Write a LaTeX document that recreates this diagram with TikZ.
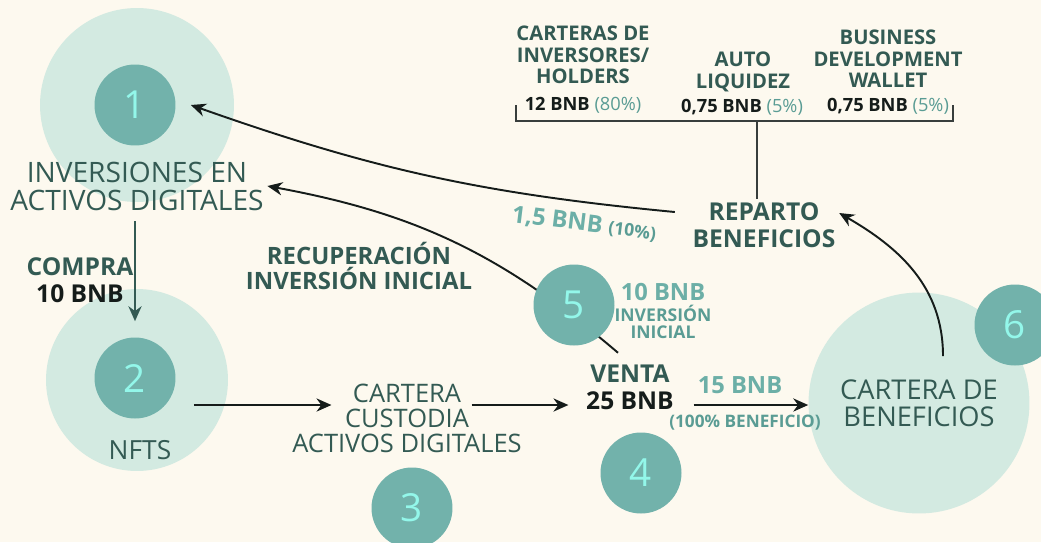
\documentclass[tikz,border=0pt]{standalone}
\usepackage{fontspec}
\setmainfont{Open Sans}
\usepackage{xcolor}
\usepackage{tikz}
\usetikzlibrary{arrows.meta}
\usetikzlibrary{positioning}
\definecolor{crema}{HTML}{FDF9EF}
\definecolor{verdeclaro}{HTML}{D3EAE1}
\definecolor{verdemedio}{HTML}{72B2AB}
\definecolor{cian}{HTML}{93F7EA}
\definecolor{oscuro}{HTML}{335A53}
\definecolor{turquesa}{HTML}{6CAFA7}
\definecolor{turquesaosc}{HTML}{5A9C94}
\definecolor{negro}{HTML}{151C1A}

\begin{document}
\begin{tikzpicture}[x=0.02cm,y=0.02cm,
  fondo/.style={circle,fill=verdeclaro,inner sep=0pt},
  num/.style={circle,fill=verdemedio,text=cian,minimum size=1.62cm,inner sep=0pt,font=\fontsize{22}{22}\selectfont},
  paso/.style={text=oscuro,align=center,inner sep=2pt,font=\fontsize{16}{16}\selectfont},
  rotulo/.style={text=oscuro,align=center,inner sep=2pt,font=\bfseries\fontsize{14}{15.3}\selectfont},
  titulo/.style={text=oscuro,align=center,inner sep=1pt,font=\bfseries\fontsize{11.5}{12.2}\selectfont},
  monto/.style={text=negro,inner sep=1pt,font=\bfseries\fontsize{10.4}{12}\selectfont},
  cifra/.style={text=turquesa,align=center,inner sep=1pt,font=\bfseries\fontsize{13.5}{15}\selectfont},
  nota/.style={text=turquesaosc,align=center,inner sep=0pt,font=\bfseries\fontsize{10}{9.6}\selectfont},
  flecha/.style={-{Stealth[length=8.5pt,width=7.5pt]},line width=1.1pt,draw=negro}]
  \useasboundingbox (0,0) rectangle (1041,-542);
  \fill[crema] (0,0) rectangle (1041,-542);
  % circulos grandes
  \node[fondo,minimum size=3.88cm] (c1) at (137,-105) {};
  \node[fondo,minimum size=3.64cm] (c2) at (137,-380) {};
  \node[fondo,minimum size=4.42cm,text=oscuro,align=center,font=\fontsize{15.5}{15.5}\selectfont] (benef) at (919,-403) {CARTERA DE\\BENEFICIOS};
  % numeros
  \foreach \n/\x/\y in {1/135/-105,2/135/-378,3/412/-508,4/641/-473,6/1015/-325}
    \node[num] (n\n) at (\x,\y) {\n};
  % textos
  \node[paso] (inv) at (137,-186) {INVERSIONES EN\\ACTIVOS DIGITALES};
  \node[paso,font=\fontsize{15}{16}\selectfont] (nfts) at (140,-450) {NFTS};
  \node[paso,font=\fontsize{14.5}{14.2}\selectfont] (custodia) at (407,-418) {CARTERA\\CUSTODIA\\ACTIVOS DIGITALES};
  \node[rotulo] (compra) at (80,-280) {COMPRA\\\textcolor{negro}{10 BNB}};
  \node[rotulo] (venta) at (630,-387) {VENTA\\\textcolor{negro}{25 BNB}};
  \node[rotulo] (reparto) at (764,-225) {REPARTO\\BENEFICIOS};
  \node[rotulo,font=\bfseries\fontsize{13.6}{14.2}\selectfont] (recup) at (359,-266) {RECUPERACIÓN\\INVERSIÓN INICIAL};
  \node[cifra,rotate=-7] (diezpct) at (584,-224) {1,5 BNB {\fontsize{10}{10}\selectfont\color{turquesaosc}(10\%)}};
  \node[cifra] (diez) at (663,-292) {10 BNB};
  \node[nota,below=1pt of diez] (diez-txt) {INVERSIÓN\\INICIAL};
  \node[cifra] (quince) at (740,-385) {15 BNB};
  \node[nota,font=\bfseries\fontsize{9.8}{10}\selectfont] (quince-txt) at (745,-423) {(100\% BENEFICIO)};
  % reparto arriba
  \node[titulo] (holders) at (583,-55) {CARTERAS DE\\INVERSORES/\\HOLDERS};
  \node[titulo] (liquidez) at (743,-72) {AUTO\\LIQUIDEZ};
  \node[titulo] (bdw) at (888,-59) {BUSINESS\\DEVELOPMENT\\WALLET};
  \node[monto] (m1) at (583,-105) {12 BNB \textcolor{turquesaosc}{\mdseries(80\%)}};
  \node[monto] (m2) at (742,-107) {0,75 BNB \textcolor{turquesaosc}{\mdseries(5\%)}};
  \node[monto] (m3) at (888,-106) {0,75 BNB \textcolor{turquesaosc}{\mdseries(5\%)}};
  \draw[line width=1pt,draw=negro!85] (516,-105) |- (953,-121) -- (953,-105);
  \draw[line width=1pt,draw=negro!85] ([xshift=-0.14cm]reparto.north) -- ([xshift=-0.14cm]reparto.north |- 0,-121);
  % flechas
  \coordinate (eje) at (0,-405);
  \draw[flecha] ([shift={(-0.28cm,0.26cm)}]reparto.west) to[bend left=7] ([xshift=0.3cm]n1.east);
  \draw[flecha] ([shift={(-0.24cm,0.16cm)}]venta.north) to[bend right=15] (inv.east);
  \draw[flecha,draw=oscuro,shorten <=0.14cm,shorten >=0.32cm] (n2.north |- inv.south) -- (n2.north);
  \draw[flecha] ([xshift=0.36cm]n2.east |- eje) -- ([xshift=0.86cm]custodia.west |- eje);
  \draw[flecha] ([xshift=-1.08cm]custodia.east |- eje) -- ([xshift=-0.28cm]venta.west |- eje);
  \draw[flecha] ([xshift=0.32cm]venta.east |- eje) -- (benef.west |- eje);
  \draw[flecha] ([shift={(0.48cm,0.94cm)}]benef.center) to[out=90,in=-30] ([yshift=0.24cm]reparto.east);
  \node[num] (n5) at (574,-305) {5};
\end{tikzpicture}
\end{document}
